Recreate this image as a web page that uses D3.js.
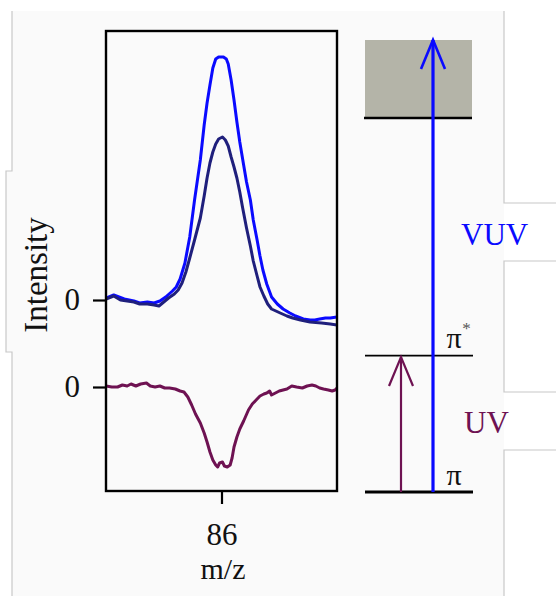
<!DOCTYPE html>
<html lang="en">
<head>
<meta charset="utf-8">
<title>m/z 86 signal with VUV and UV + VUV</title>
<style type="text/css">
  body { margin: 0; background: #fff; }
  svg { display: block; }
  text { font-family: "Liberation Serif", "DejaVu Serif", serif; }
</style>
</head>
<body>
<script src="https://d3js.org/d3.v7.min.js"></script>
<script>

// VUV only (bright blue), intensity above the upper zero line
var vuvMz  = [84.80, 84.88, 84.99, 85.09, 85.15, 85.23, 85.30, 85.36, 85.42, 85.49,
              85.53, 85.57, 85.62, 85.67, 85.72, 85.78, 85.82, 85.85, 85.88, 85.91,
              85.94, 85.97, 86.02, 86.05, 86.07, 86.10, 86.13, 86.16, 86.19, 86.23,
              86.26, 86.30, 86.33, 86.37, 86.40, 86.43, 86.47, 86.52, 86.58, 86.64,
              86.71, 86.77, 86.85, 86.92, 86.97, 87.02, 87.08, 87.13, 87.20];
var vuvInt = [0.02, 0.05, 0.01, -0.01, -0.03, -0.02, -0.03, -0.01, 0.03, 0.09,
              0.13, 0.21, 0.37, 0.63, 1.00, 1.40, 1.75, 1.97, 2.15, 2.32,
              2.41, 2.43, 2.43, 2.41, 2.36, 2.20, 2.00, 1.78, 1.58, 1.35,
              1.18, 1.00, 0.80, 0.60, 0.44, 0.30, 0.16, 0.03, -0.04, -0.09,
              -0.13, -0.16, -0.19, -0.20, -0.20, -0.19, -0.18, -0.18, -0.17];

// UV + VUV (dark blue)
var bothMz  = [84.80, 84.88, 84.95, 85.02, 85.09, 85.15, 85.23, 85.30, 85.35, 85.40,
               85.45, 85.51, 85.55, 85.59, 85.63, 85.67, 85.72, 85.78, 85.82, 85.85,
               85.88, 85.91, 85.94, 85.97, 86.01, 86.04, 86.07, 86.10, 86.13, 86.16,
               86.19, 86.22, 86.26, 86.30, 86.33, 86.37, 86.40, 86.44, 86.48, 86.52,
               86.61, 86.68, 86.74, 86.82, 86.92, 87.04, 87.13, 87.20];
var bothInt = [0.01, 0.04, 0.00, -0.01, -0.02, -0.04, -0.04, -0.05, -0.06, -0.02,
               0.02, 0.06, 0.10, 0.17, 0.28, 0.42, 0.60, 0.82, 1.04, 1.22,
               1.37, 1.48, 1.56, 1.61, 1.63, 1.60, 1.54, 1.43, 1.33, 1.22,
               1.08, 0.92, 0.72, 0.54, 0.39, 0.24, 0.13, 0.04, -0.04, -0.09,
               -0.13, -0.16, -0.18, -0.20, -0.22, -0.23, -0.24, -0.25];

// difference (purple), intensity about the lower zero line
var diffMz  = [84.80, 84.86, 84.92, 84.97, 85.02, 85.06, 85.11, 85.16, 85.22, 85.26,
               85.31, 85.36, 85.41, 85.46, 85.52, 85.57, 85.61, 85.65, 85.69, 85.73,
               85.78, 85.82, 85.85, 85.88, 85.91, 85.94, 85.96, 85.98, 86.01, 86.03,
               86.06, 86.09, 86.11, 86.13, 86.16, 86.19, 86.23, 86.28, 86.32, 86.36,
               86.40, 86.44, 86.47, 86.50, 86.52, 86.56, 86.60, 86.64, 86.68, 86.73,
               86.78, 86.84, 86.89, 86.94, 86.98, 87.02, 87.06, 87.11, 87.15, 87.18, 87.20];
var diffInt = [0.01, 0.00, 0.00, 0.02, 0.01, 0.03, 0.01, 0.03, 0.04, 0.01,
               0.00, 0.01, -0.01, -0.01, -0.02, -0.04, -0.05, -0.10, -0.18, -0.27,
               -0.36, -0.46, -0.55, -0.65, -0.73, -0.78, -0.80, -0.76, -0.75, -0.79,
               -0.80, -0.78, -0.71, -0.60, -0.50, -0.42, -0.34, -0.23, -0.17, -0.13,
               -0.09, -0.07, -0.06, -0.04, -0.08, -0.06, -0.04, -0.03, -0.02, 0.01,
               0.00, -0.01, 0.01, 0.02, 0.01, -0.01, -0.02, -0.03, -0.04, -0.03, -0.01];

var upperOffset = 0.87;          // upper traces sit on their own zero line
var xTicks = [86];
var xTickLabels = ["86"];
var yTicks = [0, upperOffset];
var yTickLabels = ["0", "0"];

// energy level diagram (eV above pi)
var levelNames  = ["\u03c0", "\u03c0", "IE"];
var levelEnergy = [0, 4.55, 12.47];
var continuumTop = 15.07;
var photonNames = ["UV", "VUV"];
var photonEnergy = [4.55, 15.07];

var W = 556, H = 596;
var plot = {left: 106, right: 337, top: 31, bottom: 491};

var svg = d3.select("body").append("svg")
    .attr("width", W)
    .attr("height", H);

//page background left behind in the screenshot
svg.append("path")
    .attr("d", "M12,11H504V596H12V352H6V171H12Z")
    .attr("fill", "#fafafa");
svg.append("path")
    .attr("d", "M12,11V171H6V352H12V596 M504,11V203H556 M556,261H504V392H556 M556,450H504V596")
    .attr("fill", "none")
    .attr("stroke", "#c8c8c8")
    .attr("stroke-width", 1.2);

//scales
var x = d3.scaleLinear()
    .domain([84.8, 87.2])
    .range([plot.left, plot.right]);

var y = d3.scaleLinear()
    .domain([-1.04, 3.56])
    .range([plot.bottom, plot.top]);

svg.append("clipPath").attr("id", "clip")
  .append("rect")
    .attr("x", plot.left).attr("y", plot.top)
    .attr("width", plot.right - plot.left)
    .attr("height", plot.bottom - plot.top);

function trace(mz, vals, offset, colour) {
  var pts = mz.map(function(d, i) { return [d, vals[i] + offset]; });
  svg.append("path")
      .datum(pts)
      .attr("clip-path", "url(#clip)")
      .attr("fill", "none")
      .attr("stroke", colour)
      .attr("stroke-width", 3)
      .attr("stroke-linejoin", "round")
      .attr("d", d3.line()
          .x(function(d) { return x(d[0]); })
          .y(function(d) { return y(d[1]); }));
}

trace(vuvMz, vuvInt, upperOffset, "#0a0aff");
trace(bothMz, bothInt, upperOffset, "#1f1f7c");
trace(diffMz, diffInt, 0, "#6e1252");

//frame
svg.append("rect")
    .attr("x", plot.left).attr("y", plot.top)
    .attr("width", plot.right - plot.left)
    .attr("height", plot.bottom - plot.top)
    .attr("fill", "none")
    .attr("stroke", "#000")
    .attr("stroke-width", 2.4);

//axes
var xAxis = svg.append("g")
    .attr("transform", "translate(0," + plot.bottom + ")")
    .call(d3.axisBottom(x).tickValues(xTicks).tickSize(13).tickPadding(19)
        .tickFormat(function(d, i) { return xTickLabels[i]; }));

var yAxis = svg.append("g")
    .attr("transform", "translate(" + plot.left + ",0)")
    .call(d3.axisLeft(y).tickValues(yTicks).tickSize(13).tickPadding(13)
        .tickFormat(function(d, i) { return yTickLabels[i]; }));

[xAxis, yAxis].forEach(function(g) {
  g.select(".domain").remove();
  g.selectAll(".tick line").attr("stroke", "#000").attr("stroke-width", 2.2);
  g.selectAll(".tick text")
      .attr("fill", "#111")
      .style("font-family", "'Liberation Serif', serif")
      .style("font-size", "31px");
});

svg.append("text")
    .attr("transform", "translate(47,275) rotate(-90)")
    .attr("text-anchor", "middle")
    .style("font-size", "33px")
    .attr("fill", "#111")
    .text("Intensity");

svg.append("text")
    .attr("x", 223)
    .attr("y", 579)
    .attr("text-anchor", "middle")
    .style("font-size", "30px")
    .attr("fill", "#111")
    .text("m/z");

//energy diagram
var e = d3.scaleLinear()
    .domain([0, continuumTop])
    .range([492, 40]);

var lvl = {x0: 365, x1: 473};
var arrowX = [401, 433];
var photonColour = ["#6e1252", "#0a0aff"];
var levelWidth = [3, 1.8, 2.4];

svg.append("rect")
    .attr("x", lvl.x0)
    .attr("y", e(continuumTop))
    .attr("width", lvl.x1 - lvl.x0 - 1)
    .attr("height", e(levelEnergy[2]) - e(continuumTop))
    .attr("fill", "#b4b4a8");

svg.selectAll(".level")
    .data(levelEnergy)
  .enter().append("line")
    .attr("class", "level")
    .attr("x1", function(d, i) { return i == 2 ? lvl.x0 - 1 : lvl.x0; })
    .attr("x2", function(d, i) { return i == 2 ? lvl.x1 - 1 : lvl.x1; })
    .attr("y1", function(d) { return e(d); })
    .attr("y2", function(d) { return e(d); })
    .attr("stroke", "#000")
    .attr("stroke-width", function(d, i) { return levelWidth[i]; });

photonEnergy.forEach(function(d, i) {
  var xa = arrowX[i], tip = e(d) + (i == 0 ? 1.5 : 0);
  var g = svg.append("g")
      .attr("fill", "none")
      .attr("stroke", photonColour[i])
      .attr("stroke-width", i == 0 ? 2.2 : 3.2);
  g.append("line")
      .attr("x1", xa).attr("x2", xa)
      .attr("y1", e(0)).attr("y2", tip);
  g.append("path")
      .attr("stroke-width", i == 0 ? 2.2 : 2.6)
      .attr("d", d3.line()([[xa - 12, tip + 29], [xa, tip], [xa + 12, tip + 29]]));
});

svg.append("text")
    .attr("x", 461).attr("y", 245)
    .style("font-size", "31px")
    .attr("fill", photonColour[1])
    .text(photonNames[1]);

svg.append("text")
    .attr("x", 464).attr("y", 433)
    .style("font-size", "31px")
    .attr("fill", photonColour[0])
    .text(photonNames[0]);

// pi and pi* labels
svg.append("text")
    .attr("x", 454).attr("y", 485)
    .attr("text-anchor", "middle")
    .style("font-size", "30px")
    .attr("fill", "#111")
    .text(levelNames[0]);

svg.append("text")
    .attr("x", 454).attr("y", 348)
    .attr("text-anchor", "middle")
    .style("font-size", "30px")
    .attr("fill", "#111")
    .text(levelNames[1]);

svg.append("text")
    .attr("x", 466.5).attr("y", 334)
    .attr("text-anchor", "middle")
    .style("font-size", "17px")
    .attr("fill", "#555")
    .text("*");

</script>
</body>
</html>
